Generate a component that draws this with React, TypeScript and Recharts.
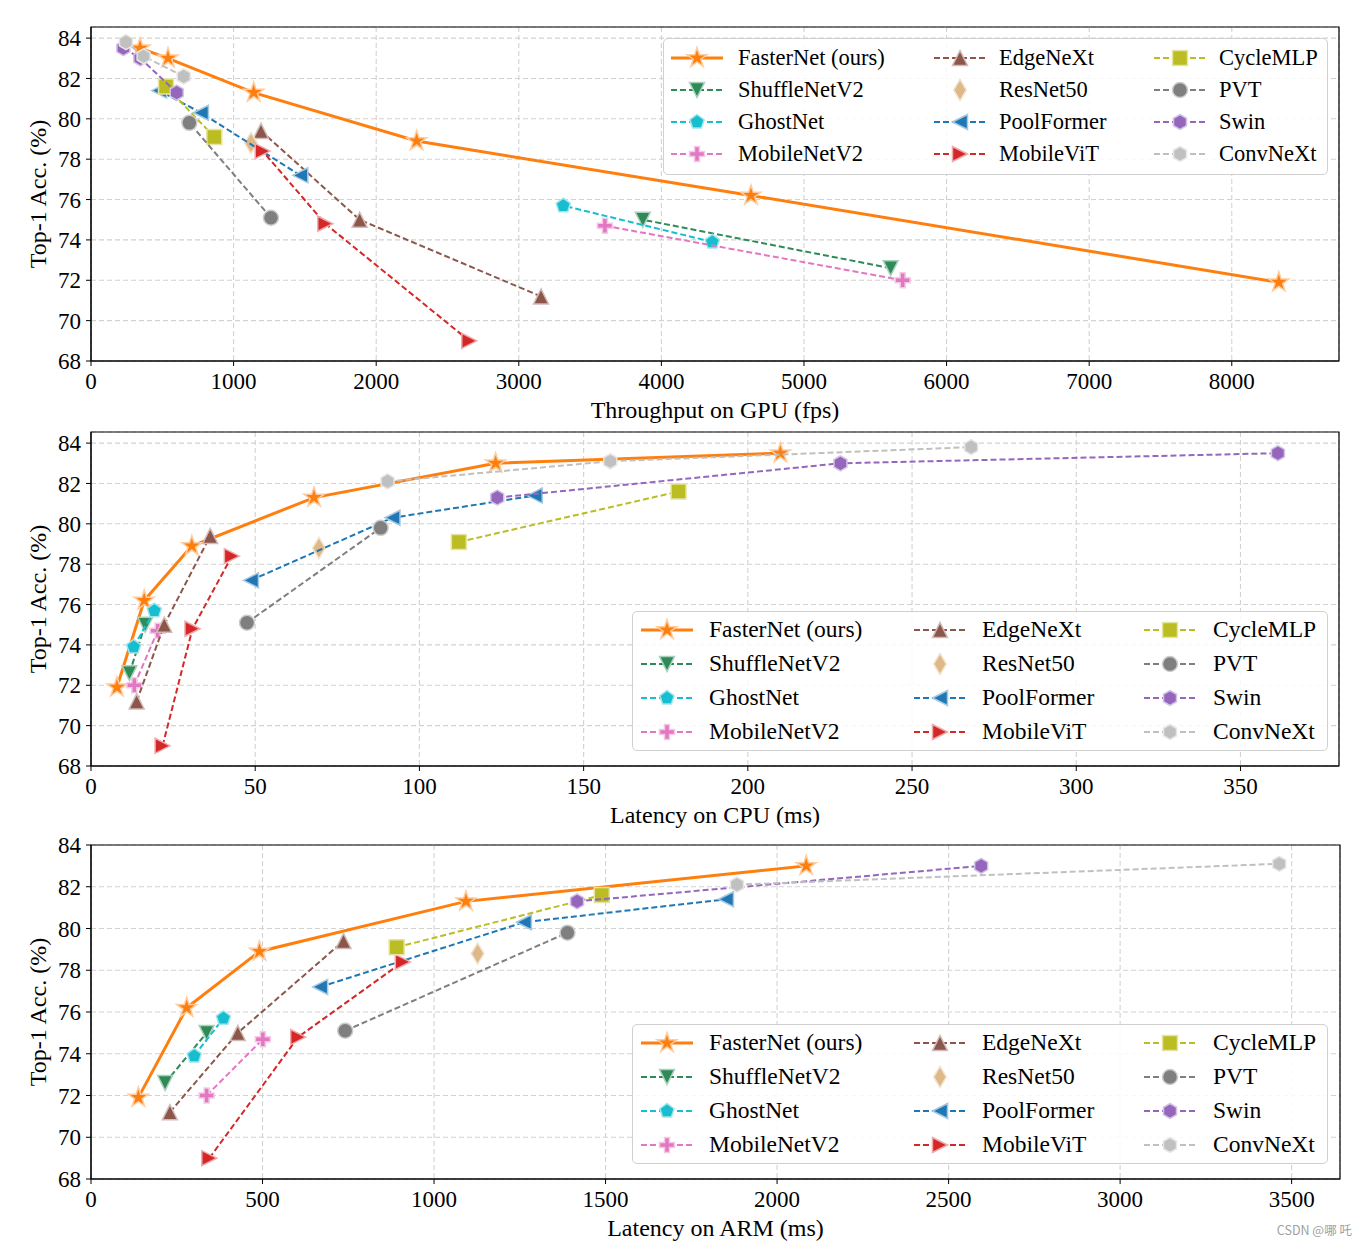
import React from "react";
import { ScatterChart, Scatter, XAxis, YAxis, CartesianGrid, ReferenceArea, Legend } from "recharts";

const SERIF = "'Liberation Serif', 'Times New Roman', Times, serif";

// legend order, column by column
const MODELS = [
  "FasterNet (ours)", "ShuffleNetV2", "GhostNet", "MobileNetV2",
  "EdgeNeXt", "ResNet50", "PoolFormer", "MobileViT",
  "CycleMLP", "PVT", "Swin", "ConvNeXt",
];
const COLORS = [
  "#ff7f0e", "#2e8b57", "#17becf", "#e377c2",
  "#8c564b", "#deb887", "#1f77b4", "#d62728",
  "#bcbd22", "#7f7f7f", "#9467bd", "#c0c0c0",
];
const MARKERS = ["star", "tdown", "pent", "plus", "tup", "thin", "tleft", "tright", "square", "circle", "hex", "hex"];

// top-1 accuracy (%) per variant
const ACC_FASTERNET = [71.9, 76.2, 78.9, 81.3, 83.0, 83.5];
const ACC_SHUFFLENETV2 = [72.6, 75.0];
const ACC_GHOSTNET = [73.9, 75.7];
const ACC_MOBILENETV2 = [72.0, 74.7];
const ACC_EDGENEXT = [71.2, 75.0, 79.4];
const ACC_RESNET50 = [78.8];
const ACC_POOLFORMER = [77.2, 80.3, 81.4];
const ACC_MOBILEVIT = [69.0, 74.8, 78.4];
const ACC_CYCLEMLP = [79.1, 81.6];
const ACC_PVT = [75.1, 79.8];
const ACC_SWIN = [81.3, 83.0, 83.5];
const ACC_CONVNEXT = [82.1, 83.1, 83.8];

// throughput on GPU (fps)
const GPU_FASTERNET = [8330, 4628, 2284, 1141, 540, 344];
const GPU_SHUFFLENETV2 = [5608, 3870];
const GPU_GHOSTNET = [4357, 3312];
const GPU_MOBILENETV2 = [5692, 3604];
const GPU_EDGENEXT = [3156, 1884, 1192];
const GPU_RESNET50 = [1122];
const GPU_POOLFORMER = [1468, 771, 478];
const GPU_MOBILEVIT = [2653, 1643, 1204];
const GPU_CYCLEMLP = [865, 526];
const GPU_PVT = [1262, 690];
const GPU_SWIN = [601, 346, 227];
const GPU_CONVNEXT = [650, 369, 245];

// latency on CPU (ms)
const CPU_FASTERNET = [7.9, 16.2, 30.7, 67.9, 123.2, 209.9];
const CPU_SHUFFLENETV2 = [11.7, 16.5];
const CPU_GHOSTNET = [13.0, 19.3];
const CPU_MOBILENETV2 = [13.2, 20.3];
const CPU_EDGENEXT = [13.9, 22.3, 36.3];
const CPU_RESNET50 = [69.4];
const CPU_POOLFORMER = [48.7, 91.8, 135.1];
const CPU_MOBILEVIT = [21.8, 30.9, 42.9];
const CPU_CYCLEMLP = [112.0, 178.9];
const CPU_PVT = [47.5, 88.2];
const CPU_SWIN = [123.7, 228.2, 361.4];
const CPU_CONVNEXT = [90.3, 158.1, 268.0];

// latency on ARM (ms)
const ARM_FASTERNET = [138, 279, 491, 1093, 2085];
const ARM_SHUFFLENETV2 = [216, 337];
const ARM_GHOSTNET = [301, 386];
const ARM_MOBILENETV2 = [337, 501];
const ARM_EDGENEXT = [230, 428, 736];
const ARM_RESNET50 = [1127];
const ARM_POOLFORMER = [668, 1262, 1851];
const ARM_MOBILEVIT = [345, 604, 909];
const ARM_CYCLEMLP = [891, 1489];
const ARM_PVT = [741, 1389];
const ARM_SWIN = [1417, 2595];
const ARM_CONVNEXT = [1883, 3464];

const ACC = [ACC_FASTERNET, ACC_SHUFFLENETV2, ACC_GHOSTNET, ACC_MOBILENETV2, ACC_EDGENEXT, ACC_RESNET50,
  ACC_POOLFORMER, ACC_MOBILEVIT, ACC_CYCLEMLP, ACC_PVT, ACC_SWIN, ACC_CONVNEXT];
const GPU = [GPU_FASTERNET, GPU_SHUFFLENETV2, GPU_GHOSTNET, GPU_MOBILENETV2, GPU_EDGENEXT, GPU_RESNET50,
  GPU_POOLFORMER, GPU_MOBILEVIT, GPU_CYCLEMLP, GPU_PVT, GPU_SWIN, GPU_CONVNEXT];
const CPU = [CPU_FASTERNET, CPU_SHUFFLENETV2, CPU_GHOSTNET, CPU_MOBILENETV2, CPU_EDGENEXT, CPU_RESNET50,
  CPU_POOLFORMER, CPU_MOBILEVIT, CPU_CYCLEMLP, CPU_PVT, CPU_SWIN, CPU_CONVNEXT];
const ARM = [ARM_FASTERNET, ARM_SHUFFLENETV2, ARM_GHOSTNET, ARM_MOBILENETV2, ARM_EDGENEXT, ARM_RESNET50,
  ARM_POOLFORMER, ARM_MOBILEVIT, ARM_CYCLEMLP, ARM_PVT, ARM_SWIN, ARM_CONVNEXT];

const ACC_TICKS = [68, 70, 72, 74, 76, 78, 80, 82, 84];
const GPU_TICKS = [0, 1000, 2000, 3000, 4000, 5000, 6000, 7000, 8000];
const CPU_TICKS = [0, 50, 100, 150, 200, 250, 300, 350];
const ARM_TICKS = [0, 500, 1000, 1500, 2000, 2500, 3000, 3500];

// marker outlines in units of the marker radius
const star = Array.from({ length: 10 }, (_, i) => {
  const a = ((-90 + i * 36) * Math.PI) / 180;
  const r = i % 2 ? 0.381966 : 1;
  return [r * Math.cos(a), r * Math.sin(a)];
});
const ngon = (n: number) =>
  Array.from({ length: n }, (_, i) => {
    const a = ((-90 + (i * 360) / n) * Math.PI) / 180;
    return [Math.cos(a), Math.sin(a)];
  });
const SHAPES: Record<string, number[][]> = {
  star,
  pent: ngon(5),
  hex: ngon(6),
  tup: [[0, -1], [-1, 1], [1, 1]],
  tdown: [[0, 1], [-1, -1], [1, -1]],
  tleft: [[-1, 0], [1, -1], [1, 1]],
  tright: [[1, 0], [-1, -1], [-1, 1]],
  square: [[-1, -1], [1, -1], [1, 1], [-1, 1]],
  plus: [[-1, -3], [1, -3], [1, -1], [3, -1], [3, 1], [1, 1], [1, 3], [-1, 3], [-1, 1], [-3, 1], [-3, -1], [-1, -1]].map(
    ([a, b]) => [a / 3, b / 3]
  ),
  thin: [[0, -1.414], [0.849, 0], [0, 1.414], [-0.849, 0]],
};

function tint(hex: string, k = 0.6) {
  const n = parseInt(hex.slice(1), 16);
  const c = [(n >> 16) & 255, (n >> 8) & 255, n & 255].map((v) => Math.round(v + (255 - v) * k));
  return `rgb(${c[0]},${c[1]},${c[2]})`;
}

function Marker({ kind, cx, cy, color }: { kind: string; cx: number; cy: number; color: string }) {
  const r = kind === "star" ? 10.5 : 7.5;
  const style = { fill: color, stroke: tint(color), strokeWidth: 1.5 };
  if (kind === "circle") return <circle cx={cx} cy={cy} r={r} {...style} />;
  const pts = SHAPES[kind].map(([a, b]) => `${cx + a * r},${cy + b * r}`).join(" ");
  return <polygon points={pts} {...style} />;
}

type LegendCfg = { left: number; top: number; w: number; h: number; hx: number[]; tx: number[]; rows: number[]; fs: number };

const LEGEND_GPU: LegendCfg = { left: 663, top: 38, w: 665, h: 137, hx: [7, 270, 490], tx: [74, 335, 555], rows: [19, 51, 83, 115], fs: 22.5 };
const LEGEND_LOW: LegendCfg = { left: 632, top: 206, w: 696, h: 140, hx: [8, 281, 511], tx: [76, 349, 580], rows: [18, 52, 86, 120], fs: 23.5 };

function LegendBox({ cfg }: { cfg: LegendCfg }) {
  return (
    <div
      style={{
        position: "relative", width: cfg.w, height: cfg.h, boxSizing: "border-box",
        border: "1.2px solid #d0d0d0", borderRadius: 5, background: "rgba(255,255,255,0.85)",
        fontFamily: SERIF, color: "#000",
      }}
    >
      {MODELS.map((m, i) => {
        const col = Math.floor(i / 4);
        const row = i % 4;
        const hw = cfg.tx[col] - cfg.hx[col];
        return (
          <div key={m} style={{ position: "absolute", left: cfg.hx[col], top: cfg.rows[row] - 14, height: 28, display: "flex", alignItems: "center" }}>
            <svg width={hw} height={28} style={{ display: "block" }}>
              {i !== 5 && (
                <line x1={0} x2={52} y1={14} y2={14} stroke={COLORS[i]}
                  strokeWidth={i === 0 ? 3 : 2} strokeDasharray={i === 0 ? undefined : "6 3"} />
              )}
              <Marker kind={MARKERS[i]} cx={26} cy={14} color={COLORS[i]} />
            </svg>
            <span style={{ fontSize: cfg.fs, lineHeight: 1, whiteSpace: "nowrap" }}>{m}</span>
          </div>
        );
      })}
    </div>
  );
}

const TICK = { fill: "#000", fontSize: 23, fontFamily: SERIF };

function Panel({ xs, xMax, xTicks, yMax, xLabel, legend, right }: {
  xs: number[][]; xMax: number; xTicks: number[]; yMax: number; xLabel: string; legend: LegendCfg; right: number;
}) {
  return (
    <ScatterChart width={1368} height={440} margin={{ top: 27, right, bottom: 0, left: 0 }}>
      <CartesianGrid stroke="#d2d2d2" strokeDasharray="5 3" strokeWidth={1.1} />
      <XAxis
        type="number" dataKey="x" domain={[0, xMax]} ticks={xTicks} allowDataOverflow interval={0}
        height={79} tickSize={5} tickMargin={7} tick={TICK} stroke="#000"
        label={(p: any) => {
          const vb = p.viewBox;
          return (
            <text x={vb.x + vb.width / 2} y={vb.y + 57} textAnchor="middle" fontSize={24} fontFamily={SERIF} fill="#000">
              {xLabel}
            </text>
          );
        }}
      />
      <YAxis
        type="number" dataKey="y" domain={[68, yMax]} ticks={ACC_TICKS} allowDataOverflow interval={0}
        width={91} tickSize={5} tickMargin={5} tick={TICK} stroke="#000"
        label={(p: any) => {
          const vb = p.viewBox;
          const cy = vb.y + vb.height / 2;
          return (
            <text x={46} y={cy} transform={`rotate(-90, 46, ${cy})`} textAnchor="middle" fontSize={24} fontFamily={SERIF} fill="#000">
              Top-1 Acc. (%)
            </text>
          );
        }}
      />
      <ReferenceArea x1={0} x2={xMax} y1={68} y2={yMax} fill="none" stroke="#000" strokeWidth={1.2} />
      {MODELS.map((m, i) => (
        <Scatter
          key={m}
          name={m}
          data={xs[i].map((x, j) => ({ x, y: ACC[i][j] }))}
          line={i === 5 ? false : {
            stroke: COLORS[i],
            strokeWidth: i === 0 ? 3 : 2,
            strokeDasharray: i === 0 ? undefined : "6 3",
          }}
          shape={(p: any) => <Marker kind={MARKERS[i]} cx={p.cx} cy={p.cy} color={COLORS[i]} />}
          isAnimationActive={false}
        />
      ))}
      <Legend
        layout="horizontal" verticalAlign="middle" align="center"
        wrapperStyle={{ left: legend.left, top: legend.top, width: legend.w, height: legend.h }}
        content={() => <LegendBox cfg={legend} />}
      />
    </ScatterChart>
  );
}

export default function App() {
  return (
    <div style={{ position: "absolute", left: 0, top: 0, width: 1368, height: 1244, overflow: "hidden", background: "#fff" }}>
      <div style={{ position: "absolute", left: 0, top: 0 }}>
        <Panel xs={GPU} xMax={8752} xTicks={GPU_TICKS} yMax={84.55} xLabel="Throughput on GPU (fps)" legend={LEGEND_GPU} right={29} />
      </div>
      <div style={{ position: "absolute", left: 0, top: 405 }}>
        <Panel xs={CPU} xMax={380} xTicks={CPU_TICKS} yMax={84.55} xLabel="Latency on CPU (ms)" legend={LEGEND_LOW} right={29} />
      </div>
      <div style={{ position: "absolute", left: 0, top: 818 }}>
        <Panel xs={ARM} xMax={3641} xTicks={ARM_TICKS} yMax={84} xLabel="Latency on ARM (ms)" legend={LEGEND_LOW} right={28} />
      </div>
      <div style={{ position: "absolute", right: 16, top: 1220, fontSize: 12.5, color: "#a0a0a0", fontFamily: "'Noto Sans CJK SC', 'DejaVu Sans', sans-serif" }}>
        CSDN @哪 吒
      </div>
    </div>
  );
}
